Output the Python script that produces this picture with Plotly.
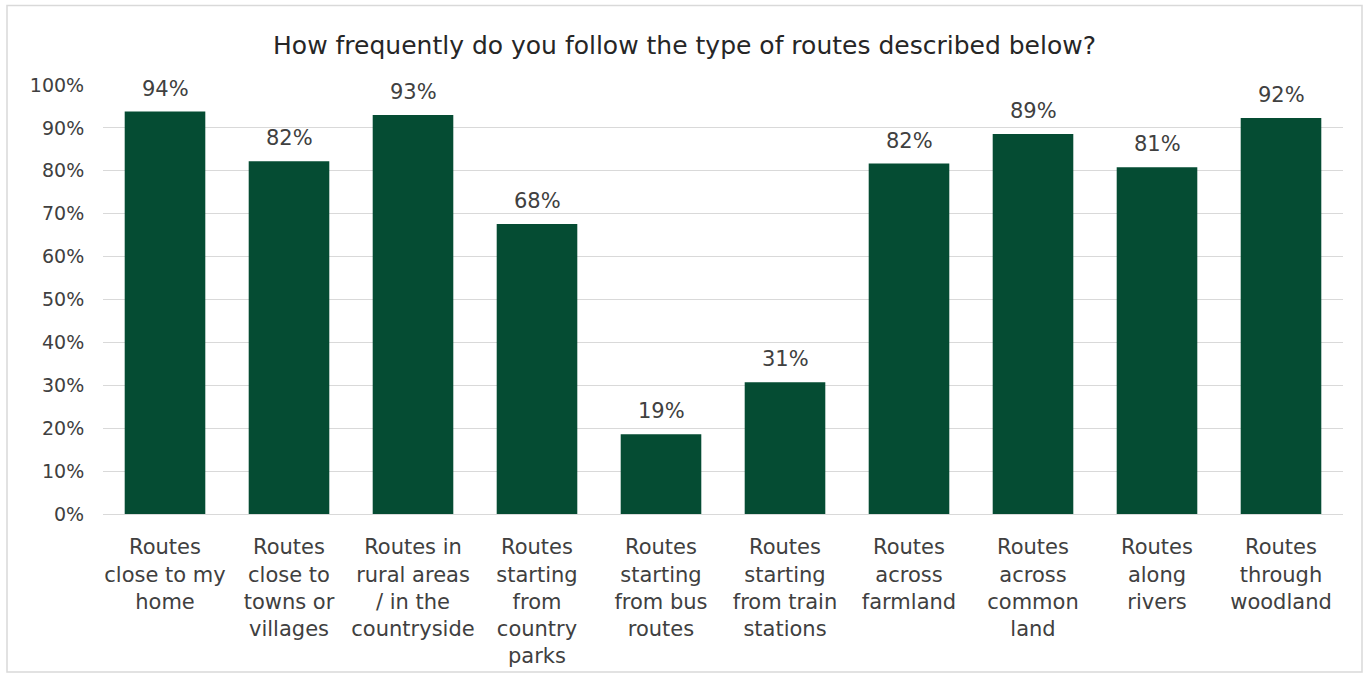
import plotly.graph_objects as go

categories = [
    "Routes<br>close to my<br>home",
    "Routes<br>close to<br>towns or<br>villages",
    "Routes in<br>rural areas<br>/ in the<br>countryside",
    "Routes<br>starting<br>from<br>country<br>parks",
    "Routes<br>starting<br>from bus<br>routes",
    "Routes<br>starting<br>from train<br>stations",
    "Routes<br>across<br>farmland",
    "Routes<br>across<br>common<br>land",
    "Routes<br>along<br>rivers",
    "Routes<br>through<br>woodland",
]
shares = [93.8, 82.2, 93.0, 67.6, 18.6, 30.7, 81.7, 88.6, 80.8, 92.3]
y_ticks = [0, 10, 20, 30, 40, 50, 60, 70, 80, 90, 100]
y_tick_labels = [f"{v}%" for v in y_ticks]

W, H = 1369, 680
ML, MR, MT, MB = 103, 26, 85, 163
FONT = "DejaVu Sans, Liberation Sans, Arial, sans-serif"
TEXT = "#404040"

fig = go.Figure(
    go.Bar(
        x=categories,
        y=shares,
        marker=dict(color="#054c33", line=dict(width=0)),
        hovertemplate="%{y:.0f}%<extra></extra>",
    )
)

# value labels above each bar
for cat, val in zip(categories, shares):
    fig.add_annotation(
        x=cat, y=val, xref="x", yref="y",
        text=f"{val:.0f}%", showarrow=False,
        yanchor="bottom", yshift=9,
        font=dict(family=FONT, size=21, color=TEXT),
    )

# light frame around the whole chart
pw = W - ML - MR
ph = H - MT - MB
fig.add_shape(
    type="rect", xref="paper", yref="paper",
    x0=(7 - ML) / pw, x1=(1362 - ML) / pw,
    y0=(H - MB - 676) / ph, y1=(H - MB - 5) / ph,
    line=dict(color="#d9d9d9", width=1.5), fillcolor="rgba(0,0,0,0)", layer="below",
)

fig.update_layout(
    width=W, height=H,
    margin=dict(l=ML, r=MR, t=MT, b=MB),
    paper_bgcolor="white", plot_bgcolor="white",
    bargap=0.35,
    showlegend=False,
    title=dict(
        text="How frequently do you follow the type of routes described below?",
        x=0.5, xref="container", xanchor="center", y=1 - 45 / H, yanchor="middle",
        font=dict(family=FONT, size=25, color="#262626"),
    ),
    font=dict(family=FONT, color=TEXT),
)
fig.update_xaxes(
    tickfont=dict(family=FONT, size=21, color=TEXT),
    showline=False, showgrid=False,
    ticks="outside", ticklen=14, tickcolor="rgba(0,0,0,0)",
)
fig.update_yaxes(
    range=[0, 100], tickvals=y_ticks, ticktext=y_tick_labels,
    tickfont=dict(family=FONT, size=19, color=TEXT),
    gridcolor="#d9d9d9", gridwidth=1,
    zeroline=True, zerolinecolor="#d9d9d9", zerolinewidth=1,
    showline=False, ticks="outside", ticklen=14, tickcolor="rgba(0,0,0,0)",
)

fig.write_html("out.html")
